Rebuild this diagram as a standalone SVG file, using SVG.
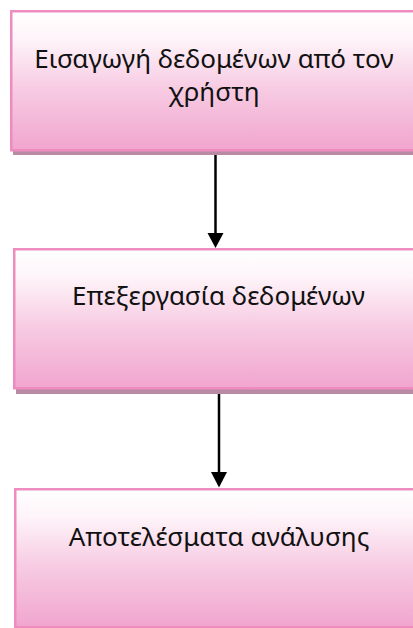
<svg xmlns="http://www.w3.org/2000/svg" width="413" height="628" viewBox="0 0 413 628">
<style>
.box{fill:url(#g);stroke:#EE8CC0;stroke-width:2.5}
.sh{fill:#B98AA3}
.t{font-family:"Noto Sans","Open Sans",sans-serif;font-size:26px;fill:#111;text-anchor:middle}
.c{stroke:#000;stroke-width:2.5;fill:none}
</style>
<defs>
<linearGradient id="g" x1="0" y1="0" x2="0" y2="1">
<stop offset="0" stop-color="#FFFFFF"/>
<stop offset="0.2" stop-color="#FEF4F9"/>
<stop offset="0.55" stop-color="#F7CCE3"/>
<stop offset="1" stop-color="#F1A5CE"/>
</linearGradient>
</defs>
<rect width="413" height="628" fill="#fff"/>
<g id="connectors">
<line class="c" x1="215.5" y1="154" x2="215.5" y2="233"/>
<path d="M207.5,233 L223.5,233 L215.5,248 Z" fill="#000"/>
<line class="c" x1="219" y1="393" x2="219" y2="473"/>
<path d="M211,472 L227,472 L219,487.5 Z" fill="#000"/>
</g>
<g id="node1">
<rect class="sh" x="13" y="14" width="420" height="141"/>
<rect class="box" x="11.25" y="11.25" width="420" height="139"/>
<text class="t" x="214" y="68">Εισαγωγή δεδομένων από τον</text>
<text class="t" x="214" y="101">χρήστη</text>
</g>
<g id="node2">
<rect class="sh" x="16" y="253" width="420" height="141"/>
<rect class="box" x="14.25" y="249.25" width="420" height="139"/>
<text class="t" x="218.5" y="305">Επεξεργασία δεδομένων</text>
</g>
<g id="node3">
<rect class="box" x="15.25" y="489.25" width="420" height="138"/>
<text class="t" x="219" y="546">Αποτελέσματα ανάλυσης</text>
</g>
</svg>
